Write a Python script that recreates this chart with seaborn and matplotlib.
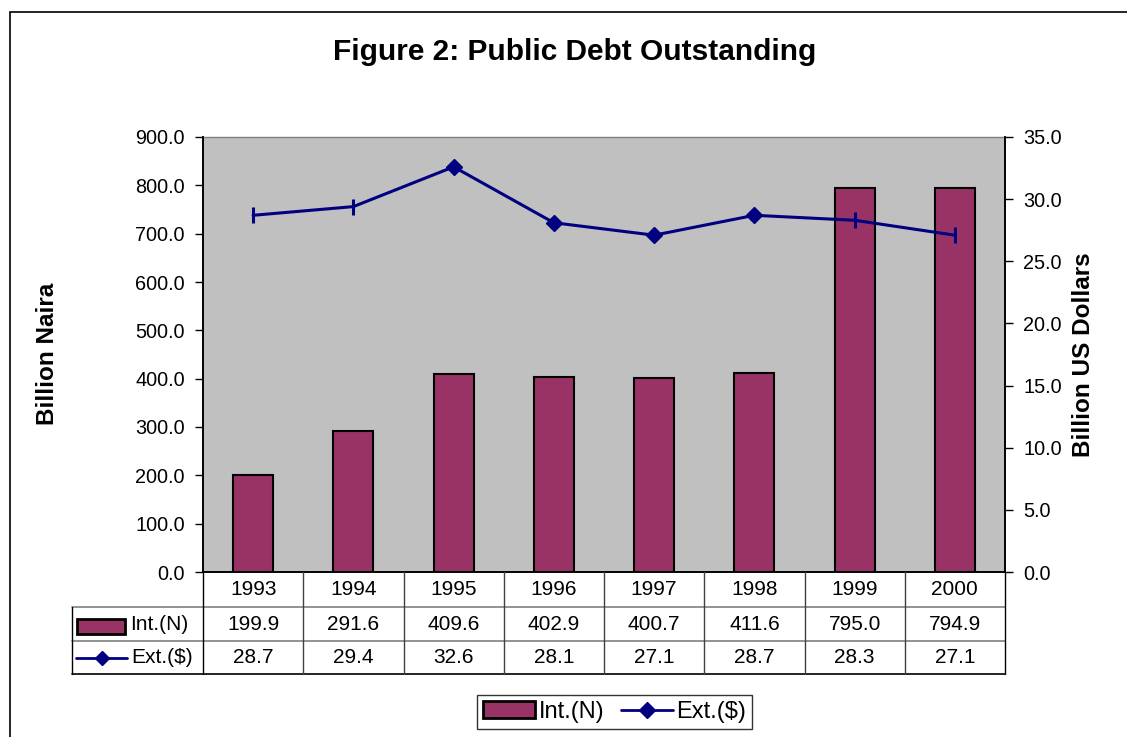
import matplotlib
matplotlib.use("Agg")
import matplotlib.pyplot as plt
import seaborn as sns
import numpy as np
import pandas as pd
from matplotlib.patches import Rectangle, Patch
from matplotlib.lines import Line2D
from matplotlib.ticker import FormatStrFormatter, MultipleLocator

# ---------------- data ----------------
years = ["1993", "1994", "1995", "1996", "1997", "1998", "1999", "2000"]
int_naira = [199.9, 291.6, 409.6, 402.9, 400.7, 411.6, 795.0, 794.9]
ext_usd = [28.7, 29.4, 32.6, 28.1, 27.1, 28.7, 28.3, 27.1]
series_int = "Int.(N)"
series_ext = "Ext.($)"
title = "Figure 2: Public Debt Outstanding"
left_label = "Billion Naira"
right_label = "Billion US Dollars"

# ---------------- style ----------------
maroon = "#993366"
navy = "#000080"
plot_bg = "#C0C0C0"
point_markers = ["|", "|", "D", "D", "D", "D", "|", "|"]

sns.set_theme(style="white")
plt.rcParams['font.family'] = ['Liberation Sans', 'DejaVu Sans']
plt.rcParams['text.color'] = 'black'
plt.rcParams['axes.labelcolor'] = 'black'
plt.rcParams['xtick.color'] = 'black'
plt.rcParams['ytick.color'] = 'black'

W, H = 1127, 737
fig = plt.figure(figsize=(W / 100, H / 100), dpi=100)
fig.patch.set_facecolor("white")


def fx(x):
    return x / W


def fy(y):
    return 1 - y / H


L, R, T, B = 203, 1005, 137, 572
ax = fig.add_axes([fx(L), fy(B), fx(R) - fx(L), fy(T) - fy(B)])
df = pd.DataFrame({"Year": years, "Int": int_naira})
sns.barplot(data=df, x="Year", y="Int", ax=ax, color=maroon, saturation=1,
            width=0.4, edgecolor="black", linewidth=1.5)
ax.set_facecolor(plot_bg)
ax.set_xlim(-0.5, len(years) - 0.5)
ax.set_ylim(0, 900)
ax.yaxis.set_major_locator(MultipleLocator(100))
ax.yaxis.set_major_formatter(FormatStrFormatter("%.1f"))
ax.set_xlabel("")
ax.set_ylabel("")
ax.set_xticks([])
ax.tick_params(axis="y", direction="out", length=6, width=1, labelsize=14.3,
               pad=7, left=True, colors="black")
for s in ["left", "bottom", "right"]:
    ax.spines[s].set_color("black")
    ax.spines[s].set_linewidth(1.2)
ax.spines["top"].set_color("#808080")
ax.spines["top"].set_linewidth(1.0)

ax2 = ax.twinx()
idx = np.arange(len(years))
sns.lineplot(x=idx, y=ext_usd, ax=ax2, color=navy, linewidth=2.2)
for i, m in enumerate(point_markers):
    if m == "D":
        ax2.plot(idx[i], ext_usd[i], marker="D", markersize=8.5, color=navy,
                 linestyle="none")
    else:
        ax2.plot(idx[i], ext_usd[i], marker="|", markersize=11, color=navy,
                 markeredgewidth=2.2, linestyle="none")
ax2.set_ylim(0, 35)
ax2.set_xlim(-0.5, len(years) - 0.5)
ax2.yaxis.set_major_locator(MultipleLocator(5))
ax2.yaxis.set_major_formatter(FormatStrFormatter("%.1f"))
ax2.tick_params(axis="y", direction="out", length=6, width=1, labelsize=14.3,
                pad=7, right=True, colors="black")
for s in ["left", "bottom", "right"]:
    ax2.spines[s].set_color("black")
    ax2.spines[s].set_linewidth(1.2)
ax2.spines["top"].set_visible(False)
ax2.set_ylabel("")
ax2.set_xticks([])

# ---------------- data table ----------------
tf = fig.transFigure
ncol = len(years)
colw = (R - L) / ncol
rows = [B, 607, 641, 674]
labx = 72
tsize = 15


def hline(x0, x1, y, color, lw=1.0):
    fig.add_artist(Line2D([fx(x0), fx(x1)], [fy(y), fy(y)], transform=tf,
                          color=color, linewidth=lw))


def vline(x, y0, y1, color, lw=1.0):
    fig.add_artist(Line2D([fx(x), fx(x)], [fy(y0), fy(y1)], transform=tf,
                          color=color, linewidth=lw))


hline(labx, R, rows[1], "#808080", 1.2)
hline(labx, R, rows[2], "#808080", 1.2)
hline(labx, R, rows[3], "black", 1.2)
for i in range(ncol + 1):
    vline(L + i * colw, B, rows[3], "#404040" if 0 < i < ncol else "black", 1.0)
vline(labx, rows[1], rows[3], "black", 1.0)

for i in range(ncol):
    cx = L + (i + 0.5) * colw
    fig.text(fx(cx), fy((rows[0] + rows[1]) / 2), years[i], ha="center",
             va="center", fontsize=tsize, color="black")
    fig.text(fx(cx), fy((rows[1] + rows[2]) / 2), f"{int_naira[i]:.1f}",
             ha="center", va="center", fontsize=tsize, color="black")
    fig.text(fx(cx), fy((rows[2] + rows[3]) / 2), f"{ext_usd[i]:.1f}",
             ha="center", va="center", fontsize=tsize, color="black")

# table legend keys
fig.add_artist(Rectangle((fx(77), fy(634)), fx(125) - fx(77), fy(619) - fy(634),
                         transform=tf, facecolor=maroon, edgecolor="black",
                         linewidth=2))
fig.text(fx(130), fy(624.5), series_int, ha="left", va="center", fontsize=tsize)
fig.add_artist(Line2D([fx(76), fx(127)], [fy(657.5), fy(657.5)], transform=tf,
                      color=navy, linewidth=2))
fig.add_artist(Line2D([fx(101.5)], [fy(657.5)], transform=tf, color=navy,
                      marker="D", markersize=7, linestyle="none"))
fig.text(fx(131), fy(657.5), series_ext, ha="left", va="center", fontsize=tsize)

# ---------------- legend ----------------
handles = [Patch(facecolor=maroon, edgecolor="black", linewidth=2),
           Line2D([], [], color=navy, linewidth=2, marker="D", markersize=8)]
leg = fig.legend(handles, [series_int, series_ext], loc="center",
                 bbox_to_anchor=(fx(614.5), fy(712)), ncol=2, fontsize=17,
                 frameon=True, fancybox=False, edgecolor="black",
                 handlelength=2.2, handleheight=0.75, handletextpad=0.15,
                 columnspacing=0.7, borderpad=0.25, borderaxespad=0)
leg.get_frame().set_linewidth(1.0)
for t in leg.get_texts():
    t.set_color("black")

# ---------------- texts ----------------
fig.text(fx(575), fy(52), title, ha="center", va="center", fontsize=21.5,
         fontweight="bold", color="black")
fig.text(fx(48), fy(354), left_label, ha="center", va="center", rotation=90,
         fontsize=17.5, fontweight="bold", color="black")
fig.text(fx(1083), fy(355), right_label, ha="center", va="center", rotation=90,
         fontsize=17.5, fontweight="bold", color="black")

# outer chart frame
fig.add_artist(Rectangle((fx(10), -0.1), 1.2, fy(12) + 0.1, transform=tf,
                         fill=False, edgecolor="black", linewidth=1.2))

fig.savefig("out.png", dpi=100)
